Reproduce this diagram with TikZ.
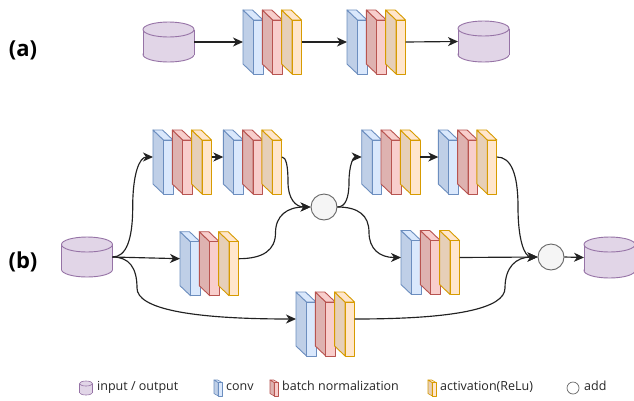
\documentclass[tikz,border=0pt]{standalone}
\usepackage{fontspec}
\setmainfont{Open Sans}
\usetikzlibrary{arrows.meta,calc}
\definecolor{convf}{HTML}{DAE8FC}\definecolor{convs}{HTML}{BFCFE7}\definecolor{convd}{HTML}{6C8EBF}
\definecolor{bnf}{HTML}{F8CECC}\definecolor{bns}{HTML}{DEB2B0}\definecolor{bnd}{HTML}{B85450}
\definecolor{actf}{HTML}{FFE6CC}\definecolor{acts}{HTML}{E6CFB8}\definecolor{actd}{HTML}{D79B00}
\definecolor{cylf}{HTML}{E1D5E7}\definecolor{cyld}{HTML}{9673A6}
\definecolor{addf}{HTML}{F5F5F5}\definecolor{addd}{HTML}{666666}
\definecolor{linec}{HTML}{222222}
\tikzset{
  pics/slab/.style n args={3}{code={
    \path[draw=#3, fill=#2, line join=round] (0,0) -- (10.5,10) -- (10.5,64) -- (0,54) -- cycle;
    \path[draw=#3, fill=#1, line join=round] (0,0) -- (9.5,0) -- (20,10) -- (10.5,10) -- cycle;
    \path[draw=#3, fill=#1, line join=round] (10.5,10) rectangle (20,64);
  }},
  grp/.style={inner sep=0pt, outer sep=0pt, minimum width=58.6pt, minimum height=64pt, draw=none},
  cylbox/.style={inner sep=0pt, outer sep=0pt, draw=none},
  cyl/.style={draw=cyld, fill=cylf, line width=0.9pt},
  addc/.style={circle, inner sep=0pt, minimum size=26pt, draw=addd, fill=addf, line width=0.9pt},
  conn/.style={draw=linec, line width=1.15pt, -{Stealth[length=10pt,width=9pt,inset=3pt]}},
  lab/.style={font=\fontsize{22}{26}\selectfont\bfseries, inner sep=0pt},
  legtxt/.style={font=\fontsize{12.5}{14}\selectfont, inner sep=0pt, anchor=mid west, text=black!85},
  hvh/.style={to path={let \p1=(\tikztostart), \p2=(\tikztotarget) in
    .. controls ({\x1+2/3*(#1pt-\x1)},\y1) and (#1pt,{5/6*\y1+1/6*\y2}) .. (#1pt,{(\y1+\y2)/2})
    .. controls (#1pt,{1/6*\y1+5/6*\y2}) and ({\x2+2/3*(#1pt-\x2)},\y2) .. (\tikztotarget)}},
}
\newcommand\slabgroup[4]{%
  \node[grp, anchor=north west] (#1) at (#2,#3) {};
  \pic[line width=0.9pt] at (#2,#3) {slab={convf}{convs}{convd}};
  \pic[line width=0.9pt] at ({#2+19.3},#3) {slab={bnf}{bns}{bnd}};
  \pic[line width=0.9pt] at ({#2+38.6},#3) {slab={actf}{acts}{actd}};
  \coordinate (#1-in) at ([yshift=#4pt]#1.west);
  \coordinate (#1-out) at ([yshift=#4pt]#1.east);
}
\newcommand\cylin[7]{% name, cx, top, bottom, rx, ry, linewidth
  \node[cylbox, minimum width={2*#5}, minimum height={#4-#3}] (#1) at (#2,{(#3+#4)/2}) {};
  \filldraw[cyl, line width=#7] (#2,{#4-#6}) ellipse [x radius=#5pt, y radius=#6pt];
  \fill[cylf] ({#2-#5},{#3+#6}) rectangle ({#2+#5},{#4-#6});
  \draw[cyl, line width=#7] ({#2-#5},{#3+#6}) -- ({#2-#5},{#4-#6}) ({#2+#5},{#3+#6}) -- ({#2+#5},{#4-#6});
  \filldraw[cyl, line width=#7] (#2,{#3+#6}) ellipse [x radius=#5pt, y radius=#6pt];
}
\begin{document}
\begin{tikzpicture}[x=1pt,y=-1pt]
\useasboundingbox[fill=white] (0,0) rectangle (634,400);
% labels
\node[lab] (la) at (23,50) {(a)};
\node[lab] (lb) at (23,262) {(b)};
% (a)
\cylin{ca1}{168.5}{22}{62}{25.5}{7.5}{0.9pt}
\cylin{ca2}{483.5}{21}{62}{25.5}{7.5}{0.9pt}
\slabgroup{ga1}{243}{10}{0}
\slabgroup{ga2}{347}{10}{0}
\draw[conn] (ca1.east) -- (ga1-in);
\draw[conn] (ga1-out) -- (ga2-in);
\draw[conn] (ga2-out) -- (ca2.west);
% (b)
\cylin{cb1}{87}{237}{277}{25.5}{7.5}{0.9pt}
\cylin{cb2}{609.5}{237}{278}{25.5}{7.5}{0.9pt}
\slabgroup{gb1}{153}{130}{5}
\slabgroup{gb2}{223.3}{130}{5}
\slabgroup{gb3}{361.7}{130}{5}
\slabgroup{gb4}{438.3}{130}{5}
\slabgroup{gb5}{180}{231.7}{5}
\slabgroup{gb6}{401}{230.5}{5}
\slabgroup{gb7}{296}{292}{5}
\node[addc] (add1) at (324,207) {};
\node[addc] (add2) at (551,257) {};
\draw[conn] (cb1.east) to[hvh=132.7] (gb1-in);
\draw[conn] (cb1.east) -- (gb5-in);
\draw[conn] (cb1.east) to[hvh=137] (gb7-in);
\draw[conn] (gb1-out) -- (gb2-in);
\draw[conn] (gb2-out) to[hvh=288] (add1.west);
\draw[conn] (gb5-out) to[hvh=275.5] (add1.west);
\draw[conn] (add1.east) to[hvh=349] (gb3-in);
\draw[conn] (add1.east) to[hvh=369] (gb6-in);
\draw[conn] (gb3-out) -- (gb4-in);
\draw[conn] (gb4-out) to[hvh=518] (add2.west);
\draw[conn] (gb6-out) -- (add2.west);
\draw[conn] (gb7-out) to[hvh=505] (add2.west);
\draw[conn] (add2.east) -- (cb2.west);
% legend
\cylin{lcyl}{86}{381}{395}{6.5}{2.5}{0.6pt}
\node[legtxt] (t1) at (97,388) {input / output};
\pic[xscale=0.4,yscale=0.25,line width=0.6pt] at (214,380) {slab={convf}{convs}{convd}};
\node[legtxt] (t2) at (226,388) {conv};
\pic[xscale=0.4,yscale=0.25,line width=0.6pt] at (270,380) {slab={bnf}{bns}{bnd}};
\node[legtxt] (t3) at (282,388) {batch normalization};
\pic[xscale=0.4,yscale=0.25,line width=0.6pt] at (428,380) {slab={actf}{acts}{actd}};
\node[legtxt] (t4) at (440,388) {activation(ReLu)};
\node[circle, inner sep=0pt, minimum size=12pt, draw=addd, line width=0.7pt] (lc) at (573,388) {};
\node[legtxt] (t5) at (584,388) {add};
\end{tikzpicture}
\end{document}
